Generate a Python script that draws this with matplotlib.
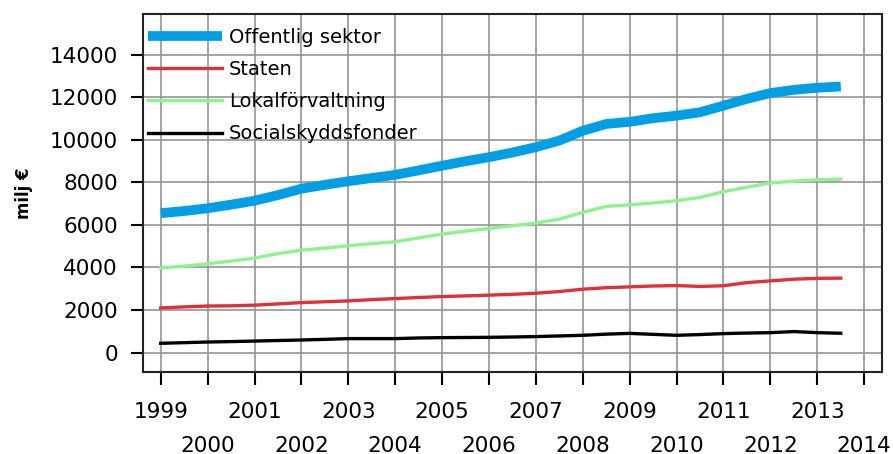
import numpy as np
import matplotlib
matplotlib.use("Agg")
import matplotlib.pyplot as plt

# half-year points, 1999 .. 2013.5
periods = np.arange(1999.0, 2014.0, 0.5)

offentlig_sektor = [6550, 6650, 6780, 6950, 7135, 7400, 7700, 7880, 8050, 8200,
                    8350, 8560, 8780, 8990, 9180, 9400, 9650, 9960, 10420, 10740,
                    10840, 11010, 11130, 11290, 11600, 11920, 12190, 12340, 12440, 12500]
staten = [2100, 2150, 2190, 2200, 2230, 2290, 2350, 2390, 2430, 2490,
          2540, 2590, 2635, 2665, 2700, 2740, 2790, 2870, 2980, 3050,
          3090, 3130, 3150, 3110, 3140, 3290, 3370, 3450, 3490, 3500]
lokalforvaltning = [3980, 4060, 4170, 4300, 4440, 4650, 4810, 4910, 5020, 5120,
                    5210, 5390, 5570, 5710, 5830, 5960, 6085, 6270, 6590, 6870,
                    6940, 7030, 7135, 7290, 7560, 7770, 7970, 8050, 8120, 8150]
socialskyddsfonder = [440, 470, 500, 520, 545, 570, 595, 625, 660, 660,
                      660, 690, 705, 712, 720, 735, 755, 785, 815, 870,
                      905, 860, 815, 850, 895, 920, 940, 990, 940, 910]

series_names = ["Offentlig sektor", "Staten", "Lokalförvaltning", "Socialskyddsfonder"]
years = list(range(1999, 2015))
yticks = list(range(0, 14001, 2000))

fs = 15.5
fig = plt.figure(figsize=(8.93, 4.54), dpi=100)
ax = fig.add_axes([0.160, 0.181, 0.8277, 0.788])

ax.plot(periods, offentlig_sektor, color="#009fe3", lw=7, solid_capstyle="butt",
        label=series_names[0], zorder=3)
ax.plot(periods, staten, color="#e03038", lw=2.4, label=series_names[1], zorder=3)
ax.plot(periods, lokalforvaltning, color="#8ff28f", lw=2.4, label=series_names[2], zorder=3)
ax.plot(periods, socialskyddsfonder, color="black", lw=2.4, label=series_names[3], zorder=3)

ax.set_xlim(1998.62, 2014.38)
ax.set_ylim(-900, 15900)

# odd years on the first row, even years on the second
odd = [y for y in years if y % 2 == 1]
even = [y for y in years if y % 2 == 0]
ax.set_xticks(odd)
ax.set_xticklabels([str(y) for y in odd])
ax.set_xticks(even, minor=True)
ax.set_xticklabels([str(y) for y in even], minor=True)
ax.tick_params(axis="x", which="major", length=9, width=1.5, pad=13, labelsize=fs)
ax.tick_params(axis="x", which="minor", length=9, width=1.5, pad=37, labelsize=fs)

ax.set_yticks(yticks)
ax.tick_params(axis="y", length=9, width=1.5, pad=9, labelsize=fs)

ax.set_ylabel("milj €", fontsize=12, fontweight="bold", labelpad=12)

for y in years:
    ax.axvline(y, color="#959595", lw=1.2, zorder=1)
for v in yticks:
    ax.axhline(v, color="#959595", lw=1.2, zorder=1)

for sp in ax.spines.values():
    sp.set_linewidth(1.5)
    sp.set_color("#222222")

ax.legend(loc="upper left", bbox_to_anchor=(-0.011, 1.0), frameon=False,
          fontsize=fs - 1.5, handlelength=3.8, handletextpad=0.36,
          labelspacing=0.68, borderaxespad=0.3)

fig.savefig("out.png", dpi=100)
